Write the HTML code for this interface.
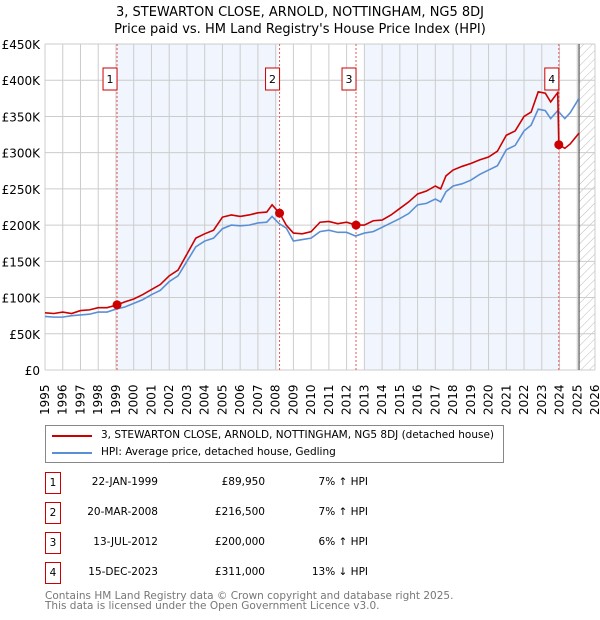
<!DOCTYPE html>
<html><head><meta charset="utf-8"><style>
body{margin:0;background:#fff;font-family:"DejaVu Sans","Liberation Sans",sans-serif;}
#wrap{position:relative;width:600px;height:620px;}
.t{position:absolute;font-size:10.5px;color:#000;white-space:nowrap}
.box{position:absolute;width:14px;height:20px;border:1px solid #c00;font-size:10.5px;text-align:center;line-height:20px}
</style></head><body><div id="wrap">
<svg id="svg" width="600" height="620" style="position:absolute;left:0;top:0">
<defs><pattern id="hatch" width="6" height="6" patternUnits="userSpaceOnUse" patternTransform="rotate(45)"><line x1="0" y1="0" x2="0" y2="6" stroke="#bbb" stroke-width="1"/></pattern></defs>
<text x="300" y="16" text-anchor="middle" font-size="13" font-family="DejaVu Sans,sans-serif">3, STEWARTON CLOSE, ARNOLD, NOTTINGHAM, NG5 8DJ</text>
<text x="300" y="33" text-anchor="middle" font-size="13" font-family="DejaVu Sans,sans-serif">Price paid vs. HM Land Registry's House Price Index (HPI)</text>
<g id="g"></g>
</svg>
<div style="position:absolute;left:45px;top:425px;width:457px;height:36px;border:1px solid #888">
<div style="position:absolute;left:6px;top:9px;width:40px;height:2px;background:#c00"></div>
<div class="t" style="left:55px;top:3px">3, STEWARTON CLOSE, ARNOLD, NOTTINGHAM, NG5 8DJ (detached house)</div>
<div style="position:absolute;left:6px;top:26px;width:40px;height:2px;background:#5b8fd4"></div>
<div class="t" style="left:55px;top:20px">HPI: Average price, detached house, Gedling</div>
</div>
<div id="tbl"></div>
<div class="t" style="left:45px;top:590px;color:#777">Contains HM Land Registry data © Crown copyright and database right 2025.</div>
<div class="t" style="left:45px;top:600px;color:#777">This data is licensed under the Open Government Licence v3.0.</div>
</div>
<script>
const hpiYears=[1995,1995.5,1996,1996.5,1997,1997.5,1998,1998.5,1999,1999.5,2000,2000.5,2001,2001.5,2002,2002.5,2003,2003.5,2004,2004.5,2005,2005.5,2006,2006.5,2007,2007.5,2007.8,2008.2,2008.6,2009,2009.5,2010,2010.5,2011,2011.5,2012,2012.5,2013,2013.5,2014,2014.5,2015,2015.5,2016,2016.5,2017,2017.3,2017.6,2018,2018.5,2019,2019.5,2020,2020.5,2021,2021.5,2022,2022.4,2022.8,2023.2,2023.5,2023.9,2024.3,2024.6,2025.1];
const hpiValues=[74,73,73,75,76,77,80,80,84,87,92,97,104,110,122,130,150,170,178,182,195,200,199,200,203,204,212,202,196,178,180,182,191,193,190,190,185,189,191,197,203,209,216,228,230,236,232,246,254,257,262,270,276,282,304,310,330,338,360,358,347,358,347,355,375];
const priceYears=[1995,1995.5,1996,1996.5,1997,1997.5,1998,1998.5,1999.06,1999.5,2000,2000.5,2001,2001.5,2002,2002.5,2003,2003.5,2004,2004.5,2005,2005.5,2006,2006.5,2007,2007.5,2007.8,2008.22,2008.6,2009,2009.5,2010,2010.5,2011,2011.5,2012,2012.53,2013,2013.5,2014,2014.5,2015,2015.5,2016,2016.5,2017,2017.3,2017.6,2018,2018.5,2019,2019.5,2020,2020.5,2021,2021.5,2022,2022.4,2022.8,2023.2,2023.5,2023.9,2023.96,2024.3,2024.6,2025.1];
const priceValues=[79,78,80,78,82,83,86,86,89.95,94,98,104,111,118,130,138,160,182,188,193,211,214,212,214,217,218,228,216.5,200,189,188,191,204,205,202,204,200,200,206,207,214,223,232,243,247,254,250,268,276,281,285,290,294,302,324,330,350,356,384,382,370,383,311,306,312,327];
const yTicks=[0,50,100,150,200,250,300,350,400,450];
const yTickLabels=["£0","£50K","£100K","£150K","£200K","£250K","£300K","£350K","£400K","£450K"];
const xTicks=[1995,1996,1997,1998,1999,2000,2001,2002,2003,2004,2005,2006,2007,2008,2009,2010,2011,2012,2013,2014,2015,2016,2017,2018,2019,2020,2021,2022,2023,2024,2025,2026];
const saleLabels=["1","2","3","4"];
const saleYears=[1999.06,2008.22,2012.53,2023.96];
const salePrices=[89.95,216.5,200,311];
const saleDates=["22-JAN-1999","20-MAR-2008","13-JUL-2012","15-DEC-2023"];
const salePriceText=["£89,950","£216,500","£200,000","£311,000"];
const saleHpiText=["7% ↑ HPI","7% ↑ HPI","6% ↑ HPI","13% ↓ HPI"];
const shadeRanges=[[1999.06,2008.1],[2013,2023.96]];
const forecastStart=2025.1;

const L=45,R=595,T=44,B=370;
const x=v=>L+(v-1995)/(2026-1995)*(R-L);
const y=v=>B-v/450*(B-T);
const g=document.getElementById('g');
const NS='http://www.w3.org/2000/svg';
function mk(tag,at){const e=document.createElementNS(NS,tag);for(const k in at)e.setAttribute(k,at[k]);g.appendChild(e);return e;}
let e;
shadeRanges.forEach(r=>{e=mk('rect',{x:x(r[0]),y:T,width:x(r[1])-x(r[0]),height:B-T,fill:'#eef3fc',opacity:0.8});

});
e=mk('rect',{x:x(forecastStart),y:T,width:R-x(forecastStart),height:B-T,fill:'url(#hatch)'});


xTicks.forEach(t=>{e=mk('line',{x1:x(t),x2:x(t),y1:T,y2:B,stroke:'#ccc','stroke-width':1});


e=mk('text',{x:0,y:0,transform:`translate(${x(t)+4},${B+45}) rotate(-90)`,'font-size':12,'font-family':'DejaVu Sans,sans-serif'});e.textContent=t;

});
yTicks.forEach((t,i)=>{e=mk('line',{x1:L,x2:R,y1:y(t),y2:y(t),stroke:'#ccc','stroke-width':1});


e=mk('text',{x:L-5,y:y(t)+5,'text-anchor':'end','font-size':12,'font-family':'DejaVu Sans,sans-serif'});e.textContent=yTickLabels[i];

});
e=mk('line',{x1:x(forecastStart),x2:x(forecastStart),y1:T,y2:B,stroke:'#555','stroke-width':1.2});


saleYears.forEach((s,i)=>{e=mk('line',{x1:x(s),x2:x(s),y1:T,y2:B,stroke:'#e55','stroke-width':1,'stroke-dasharray':'2,2'});

});
e=mk('polyline',{points:hpiYears.map((t,i)=>x(t)+','+y(hpiValues[i])).join(' '),fill:'none',stroke:'#5b8fd4','stroke-width':1.6});


e=mk('polyline',{points:priceYears.map((t,i)=>x(t)+','+y(priceValues[i])).join(' '),fill:'none',stroke:'#c00','stroke-width':1.6});


saleYears.forEach((s,i)=>{e=mk('circle',{cx:x(s),cy:y(salePrices[i]),r:4.5,fill:'#c00'});


const bx=x(s)-11;
e=mk('rect',{x:bx-3,y:68,width:14,height:22,fill:'#fff',stroke:'#c00'});


e=mk('text',{x:bx+4,y:83,'text-anchor':'middle','font-size':11,'font-family':'DejaVu Sans,sans-serif'});e.textContent=saleLabels[i];

});
const tbl=document.getElementById('tbl');
const rowY=[472,502,532,562];
saleLabels.forEach((l,i)=>{const r=document.createElement('div');


r.innerHTML=`<div class="box" style="left:45px;top:${rowY[i]}px">${l}</div><div class="t" style="right:${600-158}px;top:${rowY[i]+4}px">${saleDates[i]}</div><div class="t" style="right:${600-265}px;top:${rowY[i]+4}px">${salePriceText[i]}</div><div class="t" style="right:${600-368}px;top:${rowY[i]+4}px">${saleHpiText[i]}</div>`;
tbl.appendChild(r);});
</script></body></html>
